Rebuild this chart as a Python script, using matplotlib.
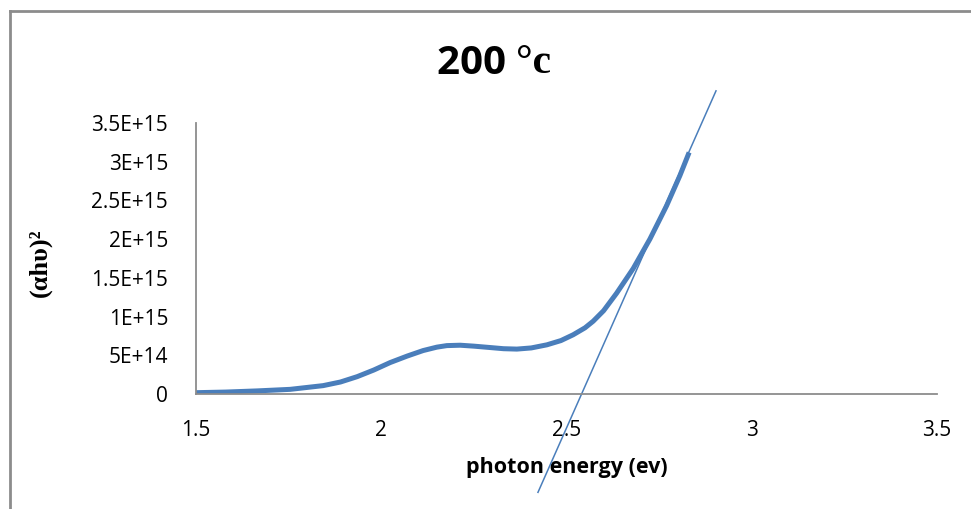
import numpy as np
import matplotlib.pyplot as plt
from matplotlib.lines import Line2D

energy = [1.500, 1.580, 1.665, 1.754, 1.843, 1.890, 1.935, 1.980, 2.024,
          2.070, 2.113, 2.150, 2.177, 2.213, 2.250, 2.294, 2.330, 2.366,
          2.405, 2.447, 2.485, 2.518, 2.550, 2.572, 2.600, 2.635, 2.680,
          2.725, 2.770, 2.806, 2.831]
ahv2 = [0.017e15, 0.025e15, 0.040e15, 0.060e15, 0.108e15, 0.155e15,
        0.224e15, 0.310e15, 0.406e15, 0.490e15, 0.561e15, 0.605e15,
        0.625e15, 0.630e15, 0.618e15, 0.600e15, 0.585e15, 0.580e15,
        0.595e15, 0.635e15, 0.690e15, 0.765e15, 0.855e15, 0.940e15,
        1.075e15, 1.300e15, 1.620e15, 2.000e15, 2.430e15, 2.820e15, 3.120e15]

# tangent line endpoints (extrapolation to the band gap)
tan_x = [2.423, 2.9035]
tan_y = [-1.27e15, 3.915e15]

xticks = [1.5, 2, 2.5, 3, 3.5]
xtick_labels = ['1.5', '2', '2.5', '3', '3.5']
yticks = [0, 0.5e15, 1e15, 1.5e15, 2e15, 2.5e15, 3e15, 3.5e15]
ytick_labels = ['0', '5E+14', '1E+15', '1.5E+15', '2E+15', '2.5E+15', '3E+15', '3.5E+15']

W, H = 971, 509
fig = plt.figure(figsize=(W / 100, H / 100), dpi=100)
ax = fig.add_axes([196 / W, 1 - 394 / H, (937 - 196) / W, (394 - 123) / H])

blue = '#4a7ebb'
grey = '#8c8c8c'

ax.plot(energy, ahv2, color=blue, lw=3.6, solid_capstyle='butt', solid_joinstyle='round')
ax.plot(tan_x, tan_y, color=blue, lw=1.1, clip_on=False)

ax.set_xlim(1.5, 3.5)
ax.set_ylim(0, 3.5e15)
ax.set_xticks(xticks)
ax.set_xticklabels(xtick_labels)
ax.set_yticks(yticks)
ax.set_yticklabels(ytick_labels)
ax.tick_params(length=0, labelsize=15)
ax.tick_params(axis='y', pad=20)
ax.tick_params(axis='x', pad=19)
for lab in ax.get_xticklabels() + ax.get_yticklabels():
    lab.set_family('Open Sans')

for s in ['top', 'right']:
    ax.spines[s].set_visible(False)
for s in ['left', 'bottom']:
    ax.spines[s].set_color(grey)
    ax.spines[s].set_linewidth(1.3)

ax.set_xlabel('photon energy (ev)', fontsize=15.5, fontweight='bold', family='Open Sans', labelpad=11)
fig.text(40 / W, 1 - 263 / H, '(αhυ)²', rotation=90, fontsize=19, fontweight='bold',
         family='Liberation Serif', ha='center', va='center')

# title: "200 " in sans, "°c" in serif
fig.text(516 / W, 1 - 63 / H, '200 ', fontsize=29, fontweight='bold', family='Open Sans',
         ha='right', va='center')
fig.text(516 / W, 1 - 63 / H, '°c', fontsize=30, fontweight='bold', family='Liberation Serif',
         ha='left', va='center')

# chart border (only top and left are within the picture)
fig.add_artist(Line2D([9.5 / W, 9.5 / W], [0, 1 - 11 / H], color=grey, lw=2))
fig.add_artist(Line2D([9.5 / W, 1], [1 - 11 / H, 1 - 11 / H], color=grey, lw=2))

fig.savefig('out.png', dpi=100)
